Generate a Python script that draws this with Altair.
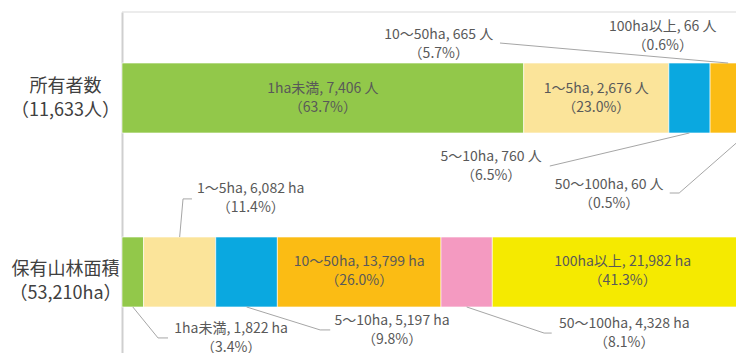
import altair as alt
import pandas as pd

# ---- data ----
rows = ["所有者数", "保有山林面積"]
row_units = ["人", "ha"]
classes = ["1ha未満", "1～5ha", "5～10ha", "10～50ha", "50～100ha", "100ha以上"]
owners = [7406, 2676, 760, 665, 60, 66]
owners_pct = [63.7, 23.0, 6.5, 5.7, 0.5, 0.6]
area = [1822, 6082, 5197, 13799, 4328, 21982]
area_pct = [3.4, 11.4, 9.8, 26.0, 8.1, 41.3]
values = [owners, area]
pcts = [owners_pct, area_pct]

colors = ["#92C84A", "#FBE49A", "#0AA8E0", "#FBBC14", "#F49AC1", "#F5EA00"]

# ---- annotation layout (in data units: x = % of total, dy = rows) ----
inside = {(0, 0), (0, 1), (1, 3), (1, 5)}
outside = {
    (0, 3): (50.2, -0.305, [(59.9, -0.316)]),
    (0, 5): (85.7, -0.351, [(99.0, -0.362), (97.5, -0.362)]),
    (0, 2): (58.5, 0.391, [(67.8, 0.391)]),
    (0, 4): (77.2, 0.555, [(88.3, 0.546), (86.8, 0.546)]),
    (1, 1): (20.4, -0.420, [(9.67, -0.420), (11.09, -0.420)]),
    (1, 0): (17.3, 0.385, [(5.71, 0.379), (7.29, 0.379)]),
    (1, 2): (42.8, 0.339, [(31.4, 0.333), (33.0, 0.333)]),
    (1, 4): (79.6, 0.351, [(66.9, 0.351), (68.1, 0.351)]),
}
half = 0.201
y_lo, y_hi = -0.4943, 1.4943

bars, texts, leaders = [], [], []
for r, row in enumerate(rows):
    tot = sum(values[r])
    cum = 0
    for c, cls in enumerate(classes):
        v = values[r][c]
        x0 = cum / tot * 100
        x1 = (cum + v) / tot * 100
        cum += v
        mid = (x0 + x1) / 2
        bars.append(dict(row=row, cls=cls, x0=x0, x1=x1, y0=r - half, y1=r + half))
        label = f"{cls}, {v:,} {row_units[r]}\n（{pcts[r][c]:.1f}%）"
        if (r, c) in inside:
            texts.append(dict(x=mid, y=r, t=label))
        else:
            lx, ldy, pts = outside[(r, c)]
            texts.append(dict(x=lx, y=r + ldy, t=label))
            lid = f"{r}-{c}"
            edge = -half if ldy < 0 else half
            leaders.append(dict(id=lid, o=0, x=mid, y=r + edge))
            for i, (px, pdy) in enumerate(pts):
                leaders.append(dict(id=lid, o=i + 1, x=px, y=r + pdy))

bars = pd.DataFrame(bars)
texts = pd.DataFrame(texts)
leaders = pd.DataFrame(leaders)
frame = pd.DataFrame([dict(x0=0, x1=100, y=y_lo)])

totals = [sum(v) for v in values]
expr = " : ".join(
    f"datum.value == {i} ? ['{rows[i]}', '（{totals[i]:,}{row_units[i]}）']" for i in range(len(rows))
) + " : ''"

xscale = alt.Scale(domain=[0, 100], range=[0, 631], nice=False, zero=True)
yscale = alt.Scale(domain=[y_lo, y_hi], range=[0, 346], nice=False, zero=False)
yaxis = alt.Axis(
    values=[0, 1], title=None, grid=False, ticks=False, tickSize=0,
    labelExpr=expr, labelAlign="center", labelBaseline="middle", labelPadding=57,
    labelOffset={"condition": {"test": "datum.value == 0", "value": -12}, "value": -2},
    labelFont="Noto Sans CJK JP", labelFontSize=18, labelLineHeight=24,
    labelColor="#404040", domainColor="#cfcfcf", domainWidth=2,
)

bar_layer = alt.Chart(bars).mark_bar(stroke="white", strokeWidth=0.6).encode(
    x=alt.X("x0:Q", scale=xscale, axis=None),
    x2="x1:Q",
    y=alt.Y("y0:Q", scale=yscale, axis=yaxis),
    y2="y1:Q",
    color=alt.Color("cls:N", scale=alt.Scale(domain=classes, range=colors), legend=None),
)

frame_layer = alt.Chart(frame).mark_rule(color="#d9d9d9", strokeWidth=1).encode(
    x=alt.X("x0:Q", scale=xscale, axis=None),
    x2="x1:Q",
    y=alt.Y("y:Q", scale=yscale, axis=yaxis),
)

line_layer = alt.Chart(leaders).mark_line(color="#a6a6a6", strokeWidth=1).encode(
    x=alt.X("x:Q", scale=xscale, axis=None),
    y=alt.Y("y:Q", scale=yscale, axis=yaxis),
    detail="id:N",
    order="o:Q",
)

text_layer = alt.Chart(texts).mark_text(
    align="center", baseline="middle", lineBreak="\n", lineHeight=19, dy=-9.5,
    font="Noto Sans CJK JP", fontSize=14, color="#595959",
).encode(
    x=alt.X("x:Q", scale=xscale, axis=None),
    y=alt.Y("y:Q", scale=yscale, axis=yaxis),
    text="t:N",
)

chart = alt.layer(frame_layer, bar_layer, line_layer, text_layer).properties(
    width=614, height=341,
    autosize=alt.AutoSizeParams(type="none"),
    padding={"left": 114, "top": 4, "right": 0, "bottom": 0},
).configure_view(stroke=None)

chart.save("out.html", embed_options={"renderer": "svg", "actions": False})
